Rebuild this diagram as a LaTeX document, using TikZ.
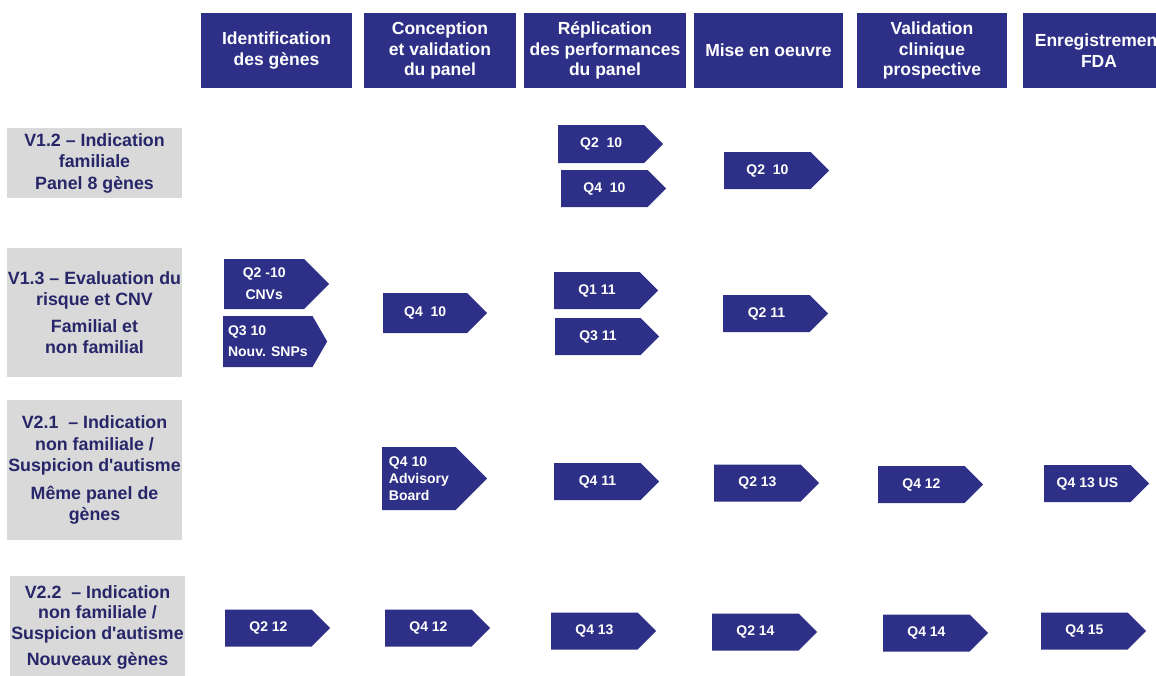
\documentclass[tikz,border=0pt]{standalone}
\usepackage{fontspec}
\setmainfont{Liberation Sans}
\usetikzlibrary{shapes.symbols,positioning}
\definecolor{navyfill}{RGB}{46,48,135}
\definecolor{greybg}{RGB}{217,217,217}
\definecolor{labeltext}{RGB}{38,38,105}

\begin{document}
\begin{tikzpicture}[x=1pt, y=-1pt,
  phase/.style={fill=navyfill, text=white, font=\fontsize{17.5}{20.5}\selectfont\bfseries, align=center, minimum height=75pt, inner sep=0pt},
  version/.style={fill=greybg, text=labeltext, font=\fontsize{17.8}{21.5}\selectfont\bfseries, align=center, minimum width=175pt, inner sep=0pt},
  milestone/.style={shape=signal, signal to=east, signal pointer angle=90, fill=navyfill, text=white, font=\fontsize{14}{18}\selectfont\bfseries, align=center, minimum width=105pt, minimum height=37pt, inner sep=2pt, anchor=west}
]
\useasboundingbox (0,0) rectangle (1156,675);

% Phases
\node[phase, minimum width=151pt] (ident) at (276.5,50.5) {Identification\\des gènes};
\node[phase, minimum width=152pt] (concept) at (440,50.5) {Conception\\et validation\\du panel};
\node[phase, minimum width=162pt] (replic) at (605,50.5) {Réplication\\des performances\\du panel};
\node[phase, minimum width=149pt] (mise) at (768.5,50.5) {Mise en oeuvre};
\node[phase, minimum width=150pt] (valid) at (932,50.5) {Validation\\clinique\\prospective};
\node[phase, minimum width=152pt] (fda) at (1099,50.5) {Enregistrement\\FDA};

% Versions
\node[version, minimum height=70pt] (v12) at (94.5,163) {V1.2 -- Indication\\familiale\\Panel 8 gènes};
\node[version, minimum height=129pt] (v13) at (94.5,312.5) {V1.3 -- Evaluation du\\risque et CNV\\[5pt]Familial et\\non familial};
\node[version, minimum height=140pt] (v21) at (94.5,470) {V2.1~ -- Indication\\non familiale /\\Suspicion d\textquotesingle autisme\\[6pt]Même panel de\\gènes};
\node[version, anchor=north, inner ysep=9pt, font=\fontsize{17.8}{20.5}\selectfont\bfseries] (v22) at (97.5,576) {V2.2~ -- Indication\\non familiale /\\Suspicion d\textquotesingle autisme\\[6pt]Nouveaux gènes\\ };

% Row V1.2
\node[milestone, minimum height=38pt] (a1) at (558,144) {Q2~~10};
\node[milestone] (a2) at (561,188.5) {Q4~~10};
\node[milestone] (a3) at (724,170.5) {Q2~~10};

% Row V1.3
\node[milestone, minimum height=50pt, font=\fontsize{14}{22}\selectfont\bfseries] (b1) at (224,284) {Q2 -10\\CNVs};
\node[milestone, minimum height=51pt, minimum width=104pt, signal pointer angle=120, align=left, font=\fontsize{14}{21}\selectfont\bfseries] (b2) at (223,341.5) {Q3 10\\Nouv. SNPs};
\node[milestone, minimum height=40pt, minimum width=104pt] (b3) at (383,313) {Q4~~10};
\node[milestone, minimum width=104pt] (b4) at (554,290.5) {Q1 11};
\node[milestone, minimum width=104pt] (b5) at (555,336.5) {Q3 11};
\node[milestone] (b6) at (723,313.5) {Q2 11};

% Row V2.1
\node[milestone, minimum height=63pt, align=left, font=\fontsize{14}{17}\selectfont\bfseries] (c1) at (382,478.5) {Q4 10\\Advisory\\Board};
\node[milestone] (c2) at (554,481.5) {Q4 11};
\node[milestone] (c3) at (714,483) {Q2 13};
\node[milestone] (c4) at (878,484.5) {Q4 12};
\node[milestone] (c5) at (1044,483.5) {Q4 13 US};

% Row V2.2
\node[milestone] (d1) at (225,628) {Q2 12};
\node[milestone] (d2) at (385,628) {Q4 12};
\node[milestone] (d3) at (551,631) {Q4 13};
\node[milestone] (d4) at (712,632) {Q2 14};
\node[milestone] (d5) at (883,633) {Q4 14};
\node[milestone] (d6) at (1041,631) {Q4 15};

\end{tikzpicture}
\end{document}
